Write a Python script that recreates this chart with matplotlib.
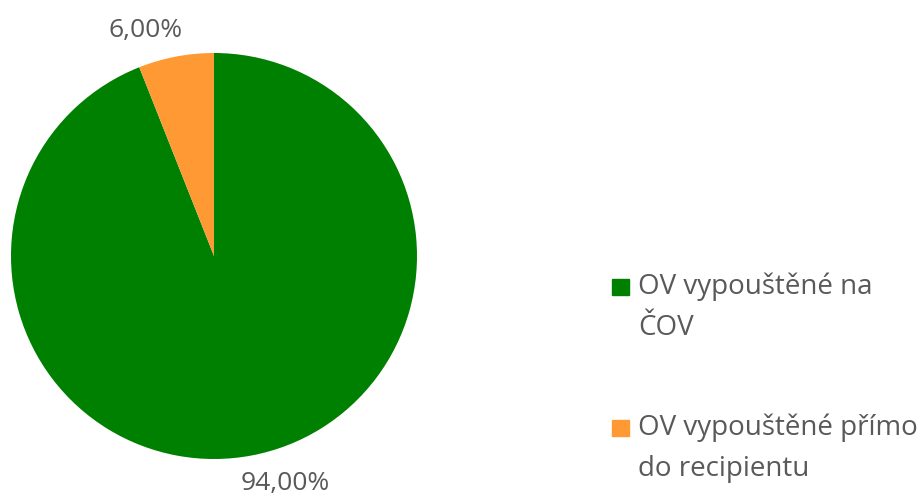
import matplotlib.pyplot as plt
from matplotlib.patches import Rectangle

categories = ['OV vypouštěné na\nČOV', 'OV vypouštěné přímo\ndo recipientu']
shares = [94.0, 6.0]
colors = ['#008000', '#FF9933']

plt.rcParams['font.family'] = ['Open Sans', 'DejaVu Sans']
txt = '#595959'

fig = plt.figure(figsize=(9.23, 5), dpi=100)
ax = fig.add_axes([11 / 923, 41 / 500, 406 / 923, 406 / 500])

wedges, texts, autotexts = ax.pie(
    shares, colors=colors, startangle=90, counterclock=False,
    autopct=lambda p: f'{p:.2f}%'.replace('.', ','), pctdistance=1.17,
    wedgeprops=dict(linewidth=0),
    textprops=dict(color=txt, fontsize=19))
ax.set_aspect('equal')
ax.set_xlim(-1, 1)
ax.set_ylim(-1, 1)

# nudge the labels a bit like Excel's best fit
x, y = autotexts[0].get_position()
autotexts[0].set_position((x + 0.13, y + 0.03))
x, y = autotexts[1].get_position()
autotexts[1].set_position((x - 0.12, y - 0.04))

# legend drawn by hand so the swatch sits at the first line
for i, (lab, c) in enumerate(zip(categories, colors)):
    yc = 1 - (287 + 141 * i) / 500
    fig.patches.append(Rectangle((612 / 923, yc - 8 / 500), 17 / 923, 16 / 500,
                                 transform=fig.transFigure, color=c))
    # baseline of a multiline text is the last line's
    fig.text(638 / 923, yc - 48 / 500, lab, color=txt, fontsize=20,
             va='baseline', ha='left', linespacing=1.62)

fig.savefig('out.png', dpi=100)
